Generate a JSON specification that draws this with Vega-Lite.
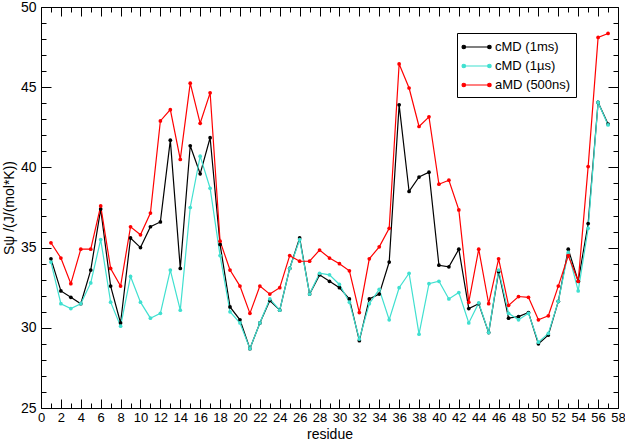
{
  "$schema": "https://vega.github.io/schema/vega-lite/v6.json",
  "width": 577,
  "height": 401,
  "autosize": {"type": "none"},
  "padding": {"left": 41, "top": 7, "right": 7, "bottom": 32},
  "background": "white",
  "config": {
    "font": "Liberation Sans",
    "view": {"stroke": "black", "strokeWidth": 1},
    "axis": {"grid": false, "domain": false, "tickColor": "black", "labelColor": "black", "titleColor": "black", "labelFont": "Liberation Sans", "titleFont": "Liberation Sans", "labelFontSize": 14, "titleFontSize": 14, "titleFontWeight": "normal", "tickWidth": 1}
  },
  "data": {"values": [
    {"residue":1,"series":"cMD (1ms)","S":34.3},{"residue":2,"series":"cMD (1ms)","S":32.3},{"residue":3,"series":"cMD (1ms)","S":31.9},{"residue":4,"series":"cMD (1ms)","S":31.5},{"residue":5,"series":"cMD (1ms)","S":33.6},{"residue":6,"series":"cMD (1ms)","S":37.4},{"residue":7,"series":"cMD (1ms)","S":32.6},{"residue":8,"series":"cMD (1ms)","S":30.3},{"residue":9,"series":"cMD (1ms)","S":35.6},{"residue":10,"series":"cMD (1ms)","S":35.0},
    {"residue":11,"series":"cMD (1ms)","S":36.3},{"residue":12,"series":"cMD (1ms)","S":36.6},{"residue":13,"series":"cMD (1ms)","S":41.7},{"residue":14,"series":"cMD (1ms)","S":33.7},{"residue":15,"series":"cMD (1ms)","S":41.35},{"residue":16,"series":"cMD (1ms)","S":39.6},{"residue":17,"series":"cMD (1ms)","S":41.85},{"residue":18,"series":"cMD (1ms)","S":35.2},{"residue":19,"series":"cMD (1ms)","S":31.3},{"residue":20,"series":"cMD (1ms)","S":30.5},
    {"residue":21,"series":"cMD (1ms)","S":28.7},{"residue":22,"series":"cMD (1ms)","S":30.3},{"residue":23,"series":"cMD (1ms)","S":31.7},{"residue":24,"series":"cMD (1ms)","S":31.1},{"residue":25,"series":"cMD (1ms)","S":33.7},{"residue":26,"series":"cMD (1ms)","S":35.6},{"residue":27,"series":"cMD (1ms)","S":32.1},{"residue":28,"series":"cMD (1ms)","S":33.3},{"residue":29,"series":"cMD (1ms)","S":32.9},{"residue":30,"series":"cMD (1ms)","S":32.5},
    {"residue":31,"series":"cMD (1ms)","S":31.8},{"residue":32,"series":"cMD (1ms)","S":29.2},{"residue":33,"series":"cMD (1ms)","S":31.8},{"residue":34,"series":"cMD (1ms)","S":32.1},{"residue":35,"series":"cMD (1ms)","S":34.1},{"residue":36,"series":"cMD (1ms)","S":43.9},{"residue":37,"series":"cMD (1ms)","S":38.5},{"residue":38,"series":"cMD (1ms)","S":39.4},{"residue":39,"series":"cMD (1ms)","S":39.7},{"residue":40,"series":"cMD (1ms)","S":33.9},
    {"residue":41,"series":"cMD (1ms)","S":33.8},{"residue":42,"series":"cMD (1ms)","S":34.9},{"residue":43,"series":"cMD (1ms)","S":31.2},{"residue":44,"series":"cMD (1ms)","S":31.5},{"residue":45,"series":"cMD (1ms)","S":29.7},{"residue":46,"series":"cMD (1ms)","S":33.5},{"residue":47,"series":"cMD (1ms)","S":30.6},{"residue":48,"series":"cMD (1ms)","S":30.7},{"residue":49,"series":"cMD (1ms)","S":30.95},{"residue":50,"series":"cMD (1ms)","S":29.0},
    {"residue":51,"series":"cMD (1ms)","S":29.55},{"residue":52,"series":"cMD (1ms)","S":31.65},{"residue":53,"series":"cMD (1ms)","S":34.9},{"residue":54,"series":"cMD (1ms)","S":32.9},{"residue":55,"series":"cMD (1ms)","S":36.5},{"residue":56,"series":"cMD (1ms)","S":44.05},{"residue":57,"series":"cMD (1ms)","S":42.7},

    {"residue":1,"series":"cMD (1µs)","S":34.1},{"residue":2,"series":"cMD (1µs)","S":31.5},{"residue":3,"series":"cMD (1µs)","S":31.2},{"residue":4,"series":"cMD (1µs)","S":31.5},{"residue":5,"series":"cMD (1µs)","S":32.8},{"residue":6,"series":"cMD (1µs)","S":35.5},{"residue":7,"series":"cMD (1µs)","S":31.6},{"residue":8,"series":"cMD (1µs)","S":30.1},{"residue":9,"series":"cMD (1µs)","S":33.2},{"residue":10,"series":"cMD (1µs)","S":31.6},
    {"residue":11,"series":"cMD (1µs)","S":30.6},{"residue":12,"series":"cMD (1µs)","S":30.9},{"residue":13,"series":"cMD (1µs)","S":33.6},{"residue":14,"series":"cMD (1µs)","S":31.1},{"residue":15,"series":"cMD (1µs)","S":37.5},{"residue":16,"series":"cMD (1µs)","S":40.7},{"residue":17,"series":"cMD (1µs)","S":38.7},{"residue":18,"series":"cMD (1µs)","S":34.5},{"residue":19,"series":"cMD (1µs)","S":31.0},{"residue":20,"series":"cMD (1µs)","S":30.3},
    {"residue":21,"series":"cMD (1µs)","S":28.7},{"residue":22,"series":"cMD (1µs)","S":30.3},{"residue":23,"series":"cMD (1µs)","S":31.8},{"residue":24,"series":"cMD (1µs)","S":31.1},{"residue":25,"series":"cMD (1µs)","S":33.7},{"residue":26,"series":"cMD (1µs)","S":35.5},{"residue":27,"series":"cMD (1µs)","S":32.1},{"residue":28,"series":"cMD (1µs)","S":33.4},{"residue":29,"series":"cMD (1µs)","S":33.3},{"residue":30,"series":"cMD (1µs)","S":32.7},
    {"residue":31,"series":"cMD (1µs)","S":31.6},{"residue":32,"series":"cMD (1µs)","S":29.3},{"residue":33,"series":"cMD (1µs)","S":31.5},{"residue":34,"series":"cMD (1µs)","S":32.4},{"residue":35,"series":"cMD (1µs)","S":30.5},{"residue":36,"series":"cMD (1µs)","S":32.5},{"residue":37,"series":"cMD (1µs)","S":33.4},{"residue":38,"series":"cMD (1µs)","S":29.6},{"residue":39,"series":"cMD (1µs)","S":32.75},{"residue":40,"series":"cMD (1µs)","S":32.9},
    {"residue":41,"series":"cMD (1µs)","S":31.8},{"residue":42,"series":"cMD (1µs)","S":32.2},{"residue":43,"series":"cMD (1µs)","S":30.3},{"residue":44,"series":"cMD (1µs)","S":31.55},{"residue":45,"series":"cMD (1µs)","S":29.7},{"residue":46,"series":"cMD (1µs)","S":33.6},{"residue":47,"series":"cMD (1µs)","S":30.9},{"residue":48,"series":"cMD (1µs)","S":30.5},{"residue":49,"series":"cMD (1µs)","S":30.9},{"residue":50,"series":"cMD (1µs)","S":29.1},
    {"residue":51,"series":"cMD (1µs)","S":29.65},{"residue":52,"series":"cMD (1µs)","S":31.65},{"residue":53,"series":"cMD (1µs)","S":34.7},{"residue":54,"series":"cMD (1µs)","S":32.3},{"residue":55,"series":"cMD (1µs)","S":36.2},{"residue":56,"series":"cMD (1µs)","S":44.05},{"residue":57,"series":"cMD (1µs)","S":42.65},

    {"residue":1,"series":"aMD (500ns)","S":35.3},{"residue":2,"series":"aMD (500ns)","S":34.35},{"residue":3,"series":"aMD (500ns)","S":32.75},{"residue":4,"series":"aMD (500ns)","S":34.9},{"residue":5,"series":"aMD (500ns)","S":34.9},{"residue":6,"series":"aMD (500ns)","S":37.6},{"residue":7,"series":"aMD (500ns)","S":33.7},{"residue":8,"series":"aMD (500ns)","S":32.6},{"residue":9,"series":"aMD (500ns)","S":36.3},{"residue":10,"series":"aMD (500ns)","S":35.8},
    {"residue":11,"series":"aMD (500ns)","S":37.15},{"residue":12,"series":"aMD (500ns)","S":42.9},{"residue":13,"series":"aMD (500ns)","S":43.6},{"residue":14,"series":"aMD (500ns)","S":40.5},{"residue":15,"series":"aMD (500ns)","S":45.25},{"residue":16,"series":"aMD (500ns)","S":42.75},{"residue":17,"series":"aMD (500ns)","S":44.65},{"residue":18,"series":"aMD (500ns)","S":35.4},{"residue":19,"series":"aMD (500ns)","S":33.6},{"residue":20,"series":"aMD (500ns)","S":32.6},
    {"residue":21,"series":"aMD (500ns)","S":30.9},{"residue":22,"series":"aMD (500ns)","S":32.6},{"residue":23,"series":"aMD (500ns)","S":32.1},{"residue":24,"series":"aMD (500ns)","S":32.5},{"residue":25,"series":"aMD (500ns)","S":34.5},{"residue":26,"series":"aMD (500ns)","S":34.15},{"residue":27,"series":"aMD (500ns)","S":34.15},{"residue":28,"series":"aMD (500ns)","S":34.85},{"residue":29,"series":"aMD (500ns)","S":34.35},{"residue":30,"series":"aMD (500ns)","S":34.0},
    {"residue":31,"series":"aMD (500ns)","S":33.55},{"residue":32,"series":"aMD (500ns)","S":30.95},{"residue":33,"series":"aMD (500ns)","S":34.3},{"residue":34,"series":"aMD (500ns)","S":35.05},{"residue":35,"series":"aMD (500ns)","S":36.2},{"residue":36,"series":"aMD (500ns)","S":46.45},{"residue":37,"series":"aMD (500ns)","S":44.95},{"residue":38,"series":"aMD (500ns)","S":42.55},{"residue":39,"series":"aMD (500ns)","S":43.15},{"residue":40,"series":"aMD (500ns)","S":38.95},
    {"residue":41,"series":"aMD (500ns)","S":39.2},{"residue":42,"series":"aMD (500ns)","S":37.35},{"residue":43,"series":"aMD (500ns)","S":31.6},{"residue":44,"series":"aMD (500ns)","S":34.9},{"residue":45,"series":"aMD (500ns)","S":31.5},{"residue":46,"series":"aMD (500ns)","S":34.3},{"residue":47,"series":"aMD (500ns)","S":31.4},{"residue":48,"series":"aMD (500ns)","S":31.95},{"residue":49,"series":"aMD (500ns)","S":31.9},{"residue":50,"series":"aMD (500ns)","S":30.5},
    {"residue":51,"series":"aMD (500ns)","S":30.75},{"residue":52,"series":"aMD (500ns)","S":32.6},{"residue":53,"series":"aMD (500ns)","S":34.5},{"residue":54,"series":"aMD (500ns)","S":32.9},{"residue":55,"series":"aMD (500ns)","S":40.05},{"residue":56,"series":"aMD (500ns)","S":48.1},{"residue":57,"series":"aMD (500ns)","S":48.35}
  ]},
  "resolve": {"axis": {"x": "independent", "y": "independent"}},
  "layer": [
    {
      "mark": {"type": "line", "strokeWidth": 1.2, "point": {"filled": true, "size": 14}},
      "encoding": {
        "x": {"field": "residue", "type": "quantitative",
              "scale": {"domain": [0, 58], "nice": false, "zero": false},
              "axis": {"orient": "bottom", "title": "residue", "values": [0,2,4,6,8,10,12,14,16,18,20,22,24,26,28,30,32,34,36,38,40,42,44,46,48,50,52,54,56,58], "tickSize": -9, "labelPadding": 12, "labelFontSize": 13, "titleY": 30, "titleBaseline": "alphabetic", "labelFlush": false, "labelOverlap": false}},
        "y": {"field": "S", "type": "quantitative",
              "scale": {"domain": [25, 50], "nice": false, "zero": false},
              "axis": {"orient": "left", "title": "Sψ /(J/(mol*K))", "values": [25,30,35,40,45,50], "tickSize": -10, "labelPadding": 15, "titleX": -32, "titleBaseline": "middle", "labelFlush": false, "labelOverlap": false}},
        "color": {"field": "series", "type": "nominal", "sort": ["cMD (1ms)", "cMD (1µs)", "aMD (500ns)"],
                  "scale": {"domain": ["cMD (1ms)", "cMD (1µs)", "aMD (500ns)"], "range": ["#000000", "#40E0D0", "#FF0000"]},
                  "legend": {"orient": "none", "legendX": 416, "legendY": 26, "title": null, "strokeColor": "black", "fillColor": "white", "padding": 5, "rowPadding": 3, "labelFontSize": 13, "labelFont": "Liberation Sans", "labelColor": "black", "labelOffset": 15, "symbolSize": 256, "symbolStrokeWidth": 1.2, "symbolType": "M-0.9,0L2.3,0M-1.12,0a0.22,0.22 0 1,0 0.44,0a0.22,0.22 0 1,0 -0.44,0M2.08,0a0.22,0.22 0 1,0 0.44,0a0.22,0.22 0 1,0 -0.44,0"}}
      }
    },
    {
      "mark": {"type": "point", "opacity": 0},
      "encoding": {
        "x": {"field": "residue", "type": "quantitative",
              "axis": {"orient": "bottom", "title": null, "labels": false, "values": [1,3,5,7,9,11,13,15,17,19,21,23,25,27,29,31,33,35,37,39,41,43,45,47,49,51,53,55,57], "tickSize": -5}},
        "y": {"field": "S", "type": "quantitative",
              "axis": {"orient": "left", "title": null, "labels": false, "values": [26,27,28,29,31,32,33,34,36,37,38,39,41,42,43,44,46,47,48,49], "tickSize": -5}}
      }
    },
    {
      "mark": {"type": "point", "opacity": 0},
      "encoding": {
        "x": {"field": "residue", "type": "quantitative",
              "axis": {"orient": "top", "title": null, "labels": false, "values": [0,2,4,6,8,10,12,14,16,18,20,22,24,26,28,30,32,34,36,38,40,42,44,46,48,50,52,54,56,58], "tickSize": -9}},
        "y": {"field": "S", "type": "quantitative",
              "axis": {"orient": "right", "title": null, "labels": false, "values": [25,30,35,40,45,50], "tickSize": -10}}
      }
    },
    {
      "mark": {"type": "point", "opacity": 0},
      "encoding": {
        "x": {"field": "residue", "type": "quantitative",
              "axis": {"orient": "top", "title": null, "labels": false, "values": [1,3,5,7,9,11,13,15,17,19,21,23,25,27,29,31,33,35,37,39,41,43,45,47,49,51,53,55,57], "tickSize": -5}},
        "y": {"field": "S", "type": "quantitative",
              "axis": {"orient": "right", "title": null, "labels": false, "values": [26,27,28,29,31,32,33,34,36,37,38,39,41,42,43,44,46,47,48,49], "tickSize": -5}}
      }
    }
  ]
}
